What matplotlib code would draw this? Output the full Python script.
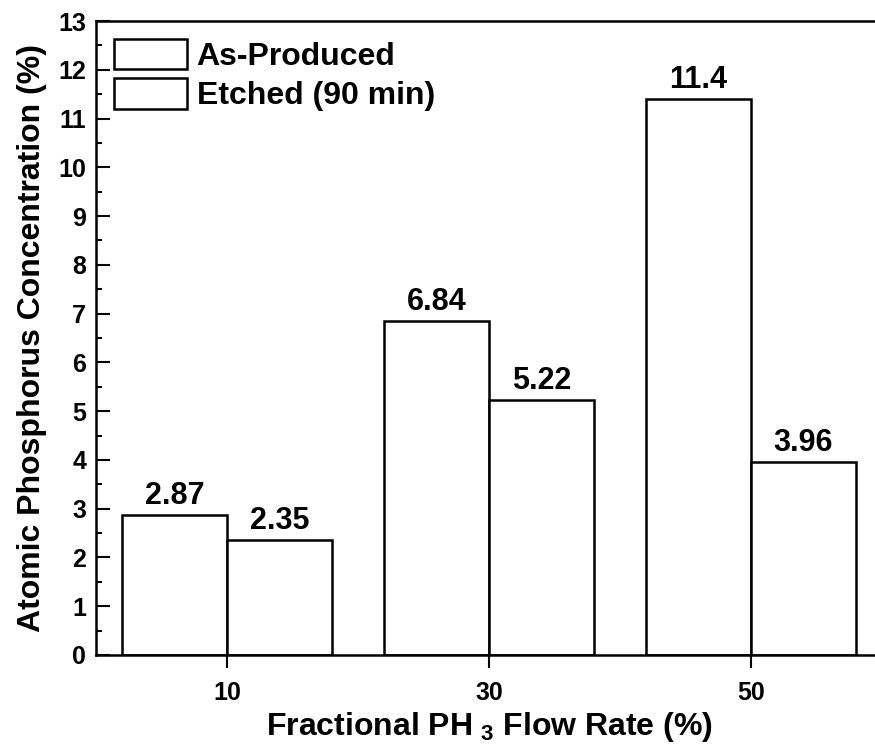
import matplotlib
matplotlib.use("Agg")
import matplotlib.pyplot as plt
from matplotlib.ticker import MultipleLocator

plt.rcParams['font.family'] = ['Liberation Sans', 'DejaVu Sans']
plt.rcParams['font.weight'] = 'bold'
plt.rcParams['mathtext.fontset'] = 'custom'
plt.rcParams['mathtext.rm'] = 'Liberation Sans:bold'
plt.rcParams['mathtext.bf'] = 'Liberation Sans:bold'

# PH3 flow rate groups and measured P concentration
flow_rate = [10, 30, 50]
as_produced = [2.87, 6.84, 11.4]
etched = [2.35, 5.22, 3.96]
series_names = ['As-Produced', 'Etched (90 min)']

bar_w = 8

fig = plt.figure(figsize=(8.75, 7.52), dpi=100)
ax = fig.add_axes([0.1097, 0.129, 0.8983, 0.843])

b1 = ax.bar([x - bar_w / 2 for x in flow_rate], as_produced, width=bar_w,
            facecolor='white', edgecolor='black', linewidth=1.8, label=series_names[0])
b2 = ax.bar([x + bar_w / 2 for x in flow_rate], etched, width=bar_w,
            facecolor='white', edgecolor='black', linewidth=1.8, label=series_names[1])
ax.bar_label(b1, labels=[f'{v:g}' for v in as_produced], padding=3,
             fontsize=22, fontweight='bold')
ax.bar_label(b2, labels=[f'{v:g}' for v in etched], padding=3,
             fontsize=22, fontweight='bold')

ax.set_xlim(0, 60)
ax.set_ylim(0, 13)
ax.set_xticks(flow_rate)
ax.yaxis.set_major_locator(MultipleLocator(1))
ax.yaxis.set_minor_locator(MultipleLocator(0.5))

ax.tick_params(axis='y', which='major', direction='in', length=10, width=1.5,
               labelsize=18, pad=7)
ax.tick_params(axis='y', which='minor', direction='in', length=4.5, width=1.5)
ax.tick_params(axis='x', which='major', direction='out', length=9, width=1.5,
               labelsize=18, pad=10)
for lbl in ax.get_xticklabels() + ax.get_yticklabels():
    lbl.set_fontweight('bold')

for s in ax.spines.values():
    s.set_linewidth(1.8)

ax.set_xlabel(r'Fractional PH$_{\ 3}$ Flow Rate (%)', fontsize=23,
              fontweight='bold', labelpad=3)
ax.set_ylabel('Atomic Phosphorus Concentration (%)', fontsize=23,
              fontweight='bold', labelpad=8)

ax.legend(loc='upper left', frameon=False, fontsize=23,
          handlelength=2.3, handleheight=1.1, handletextpad=0.3,
          labelspacing=0.2, borderaxespad=0.35, borderpad=0.2)

fig.savefig('out.png', dpi=100)
